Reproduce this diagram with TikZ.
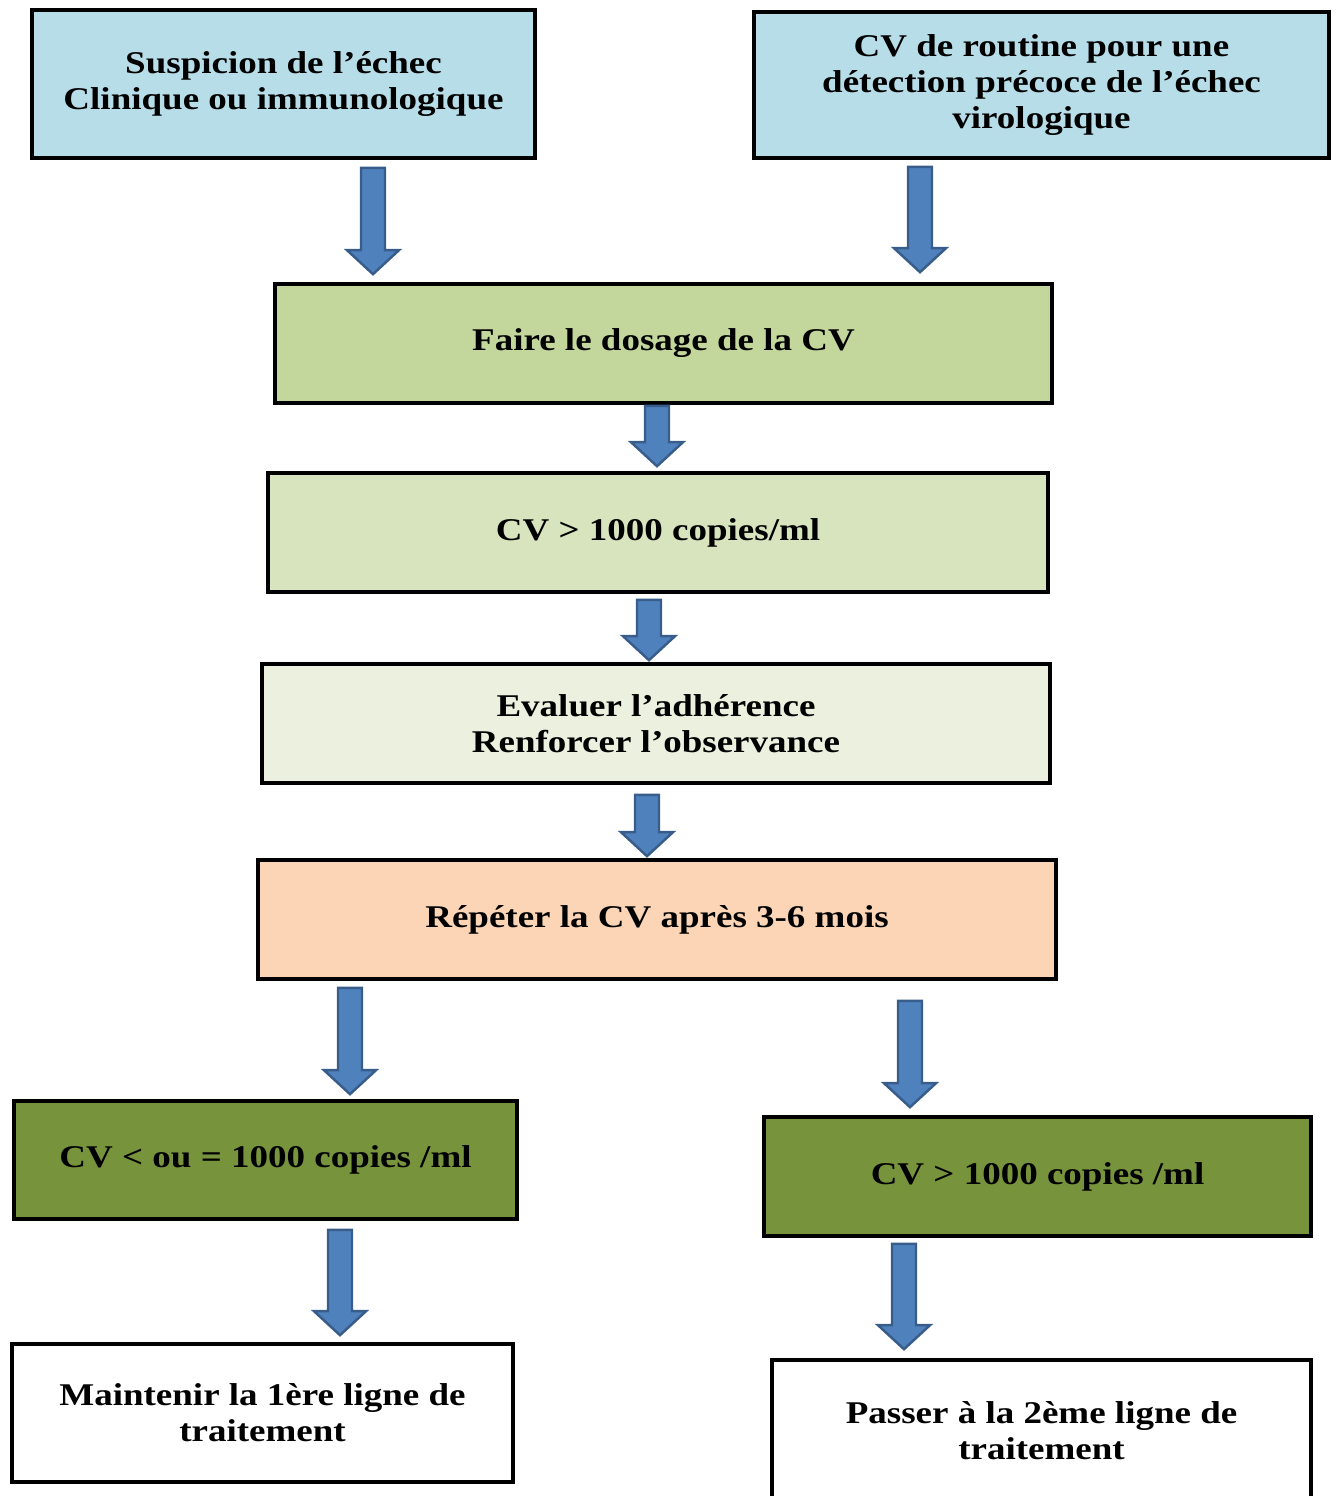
\documentclass[tikz,border=0pt]{standalone}
\usepackage{fontspec}
\setmainfont[FakeStretch=1.17]{Liberation Serif}
\usepackage{tikz}
\usetikzlibrary{calc}
\definecolor{lightblue}{HTML}{B7DDE8}
\definecolor{dosagegreen}{HTML}{C3D69B}
\definecolor{cvgreen}{HTML}{D7E4BD}
\definecolor{palegreen}{HTML}{EBF1DE}
\definecolor{peach}{HTML}{FBD5B5}
\definecolor{olive}{HTML}{77933C}
\definecolor{arrowblue}{HTML}{4F81BD}
\definecolor{arrowedge}{HTML}{385D8A}
\tikzset{
box/.style={draw, line width=2.1pt, align=center, inner sep=0pt,
  font=\bfseries\fontsize{18}{20.5}\selectfont}, % every box of the chart
flow/.style={fill=arrowblue, draw=arrowedge, line width=1.4pt, line join=miter}, % the big blue arrows
}

\begin{document}
\begin{tikzpicture}[x=0.02cm, y=-0.02cm]
\useasboundingbox (0,0) rectangle (1335,1496);

\node[box, fill=lightblue, minimum width=10.06cm, minimum height=2.96cm] (susp) at (283.5,84) {Suspicion de l’échec\\Clinique ou immunologique};
\node[box, fill=lightblue, minimum width=11.5cm, minimum height=2.92cm] (routine) at (1041.5,85) {CV de routine pour une\\détection précoce de l’échec\\virologique};
\node[box, fill=dosagegreen, minimum width=15.54cm, minimum height=2.38cm] (dosage) at (663.5,343.5) {Faire le dosage de la CV};
\node[box, fill=cvgreen, minimum width=15.6cm, minimum height=2.38cm] (cv) at (658,532.5) {CV > 1000 copies/ml};
\node[box, fill=palegreen, minimum width=15.76cm, minimum height=2.38cm] (eval) at (656,723.5) {Evaluer l’adhérence\\Renforcer l’observance};
\node[box, fill=peach, minimum width=15.96cm, minimum height=2.38cm] (repet) at (657,919.5) {Répéter la CV après 3-6 mois};
\node[box, fill=olive, minimum width=10.06cm, minimum height=2.36cm] (cvinf) at (265.5,1160) {CV < ou = 1000 copies /ml};
\node[box, fill=olive, minimum width=10.94cm, minimum height=2.38cm] (cvsup) at (1037.5,1176.5) {CV > 1000 copies /ml};
\node[box, fill=white, minimum width=10.02cm, minimum height=2.76cm] (maint) at (262.5,1413) {Maintenir la 1ère ligne de\\traitement};
\node[box, fill=white, minimum width=10.78cm, minimum height=2.84cm] (passer) at (1041.5,1431) {Passer à la 2ème ligne de\\traitement};

% block arrows: from/to/x offset/gap below/gap above
\foreach \from/\to/\dx/\ga/\gb in {susp/dosage/89.5/8/8, routine/dosage/-121.5/7/10,
  dosage/cv/-6.5/1/5, cv/eval/-9/6/2, eval/repet/-9/10/2,
  repet/cvinf/-307/7/5, repet/cvsup/253/20/8,
  cvinf/maint/74.5/9/7, cvsup/passer/-133.5/6/9}
{
\path ($(\from.south)+(\dx,\ga)$) coordinate (s) ($(s |- \to.north)+(0,-\gb)$) coordinate (e);
\filldraw[flow] ($(s)+(-12,0)$) -- ($(e)+(-12,-24)$) -- ($(e)+(-26,-24)$) -- (e)
  -- ($(e)+(26,-24)$) -- ($(e)+(12,-24)$) -- ($(s)+(12,0)$) -- cycle;
}

\end{tikzpicture}
\end{document}
